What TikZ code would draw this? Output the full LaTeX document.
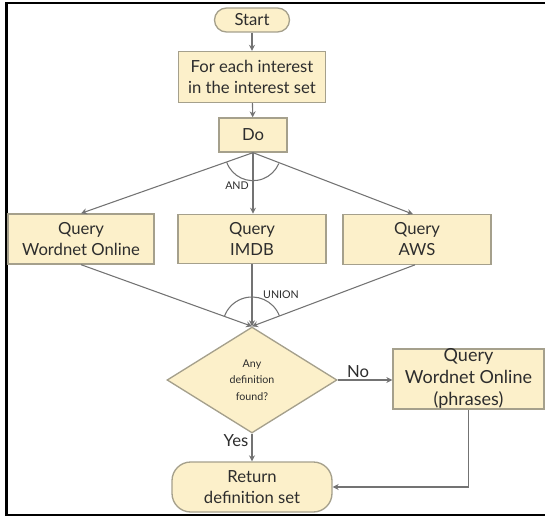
\documentclass[tikz,border=0pt]{standalone}
\usepackage{fontspec}
\setmainfont{Lato}
\usetikzlibrary{shapes.geometric,arrows.meta,calc}
\definecolor{boxfill}{RGB}{252,240,202}
\definecolor{boxdraw}{RGB}{165,160,140}
\definecolor{linec}{RGB}{115,115,115}
\definecolor{txt}{RGB}{45,45,45}
\tikzset{
  procbox/.style={draw=boxdraw, fill=boxfill, line width=1pt, inner sep=0pt, align=center,
    font=\fontsize{12.5}{15.75}\selectfont, text=txt},
  termbox/.style={procbox, rounded corners=9pt},
  decbox/.style={draw=boxdraw, fill=boxfill, line width=1pt, diamond, inner sep=0pt, align=center,
    font=\fontsize{8}{12.4}\selectfont, text=txt},
  conn/.style={draw=linec, line width=0.8pt},
  arr/.style={conn, -{Stealth[length=4.5pt,width=4.5pt]}},
  lbl/.style={font=\fontsize{8}{10}\selectfont, text=txt},
  lblb/.style={font=\fontsize{12.5}{14}\selectfont, text=txt},
  frame/.style={draw=black, line width=2.2pt}
}
\begin{document}
\begin{tikzpicture}[x=0.75pt,y=0.75pt]
\useasboundingbox (0,0) rectangle (545,518);
% frame
\coordinate (fTL) at (6.5,515);
\coordinate (fTR) at (545,515);
\coordinate (fBL) at (6.5,3);
\coordinate (fBR) at (545,3);
\draw[frame] (fTR) -- (fTL) -- (fBL) -- (fBR);
% nodes
\node[termbox, minimum width=56.25pt, minimum height=18pt] (start) at (252,498) {Start};
\node[procbox, minimum width=110.25pt, minimum height=38.25pt] (foreach) at (252,441) {For each interest\\in the interest set};
\node[procbox, minimum width=51pt, minimum height=25.5pt] (do) at (253,383) {Do};
\node[procbox, minimum width=109.5pt, minimum height=37.5pt] (q1) at (81,279) {Query\\Wordnet Online};
\node[procbox, minimum width=111pt, minimum height=37pt] (q2) at (252,279) {Query\\IMDB};
\node[procbox, minimum width=111pt, minimum height=37pt] (q3) at (417,278.5) {Query\\AWS};
\node[decbox, minimum width=127.5pt, minimum height=79.5pt] (dec) at (252,138) {Any\\definition\\found?};
\coordinate (merge) at (dec.north);
\node[procbox, minimum width=113.25pt, minimum height=45pt, font=\fontsize{13.5}{16.5}\selectfont] (q4) at (468.5,139) {Query\\Wordnet Online\\(phrases)};
\node[termbox, minimum width=120pt, minimum height=37.5pt, rounded corners=14pt] (ret) at (252,31) {Return\\definition set};
% connectors
\draw[arr] (start) -- (foreach);
\draw[arr] (foreach) -- (do);
\coordinate (doB) at (do.south);
\draw[arr] (doB) -- (q1.north);
\draw[arr] (doB) -- (q2.north -| doB);
\draw[arr] (doB) -- ($(q3.north)+(-4,0)$);
\draw[arr] (q1.south) -- (merge);
\draw[arr] (q2.south) -- (merge);
\draw[arr] ($(q3.south)+(-2,0)$) -- (merge);
% arcs
\draw[conn] ($(doB)+(200:21pt)$) arc[start angle=200, end angle=337, radius=21pt];
\draw[conn] ($(merge)+(21:22pt)$) arc[start angle=21, end angle=161, radius=22pt];
\node[lbl] (andl) at (237,332) {AND};
\node[lbl] (unionl) at (281,223) {UNION};
% decision
\draw[arr] (dec.east) -- (q4.west |- dec.east);
\node[lblb] (nol) at (358,146) {No};
\draw[arr] (dec.south) -- (ret.north);
\node[lblb] (yesl) at (236,77) {Yes};
\draw[arr] (q4.south) |- (ret.east);
\end{tikzpicture}
\end{document}
